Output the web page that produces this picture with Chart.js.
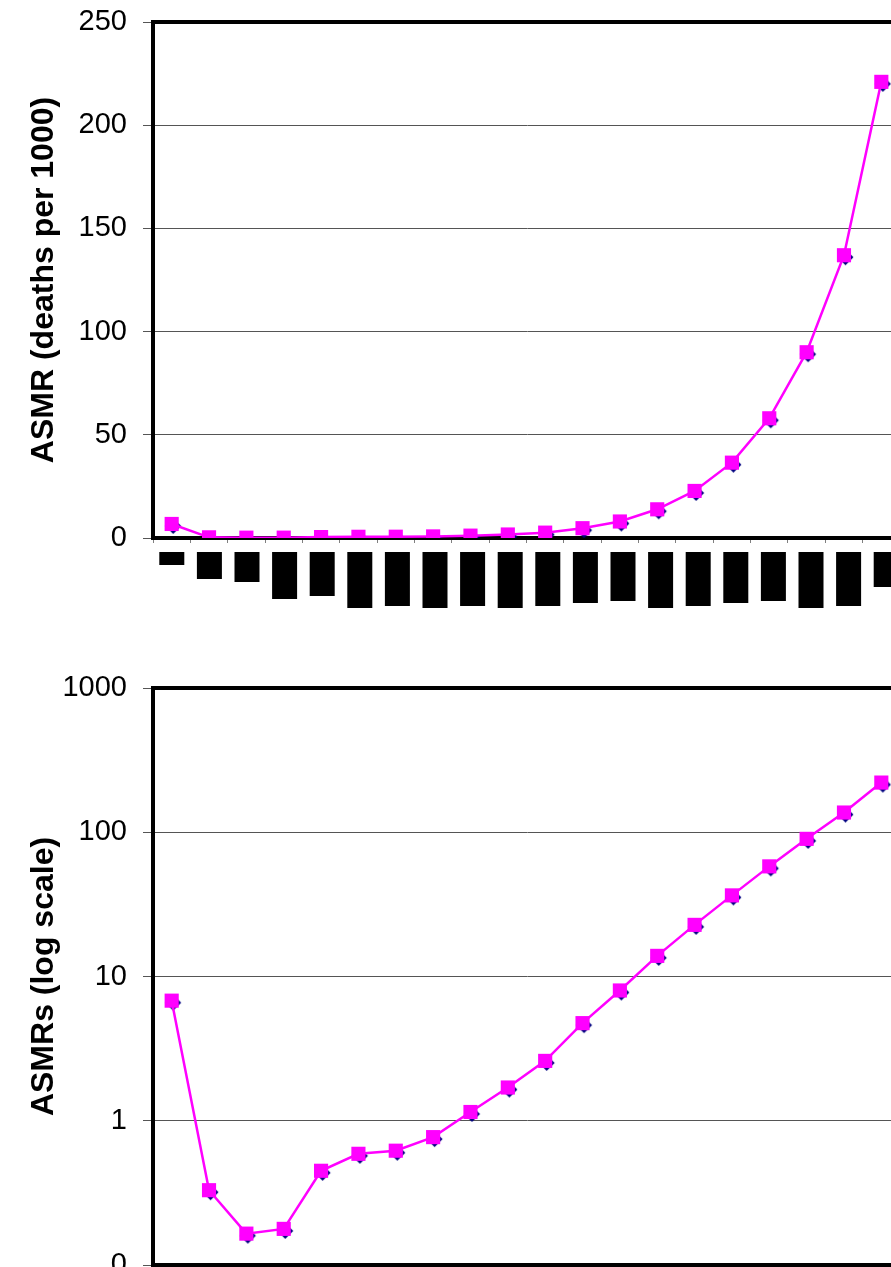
<!DOCTYPE html>
<html>
<head>
<meta charset="utf-8">
<script src="https://cdn.jsdelivr.net/npm/chart.js@4.4.1/dist/chart.umd.min.js"></script>
<style>
  html, body { margin: 0; padding: 0; background: #fff; width: 891px; height: 1267px; overflow: hidden; }
  canvas { position: absolute; left: 0; }
  #linChart { top: 0; }
  #blockChart { top: 552px; }
  #logChart { top: 640px; }
</style>
</head>
<body>
<canvas id="linChart" width="910" height="560"></canvas>
<canvas id="blockChart" width="910" height="60"></canvas>
<canvas id="logChart" width="910" height="660"></canvas>
<script>
// age groups (the axis labels are blacked out in the picture, not shown as text)
const ageGroups = ["0", "1-4", "5-9", "10-14", "15-19", "20-24", "25-29", "30-34", "35-39", "40-44",
  "45-49", "50-54", "55-59", "60-64", "65-69", "70-74", "75-79", "80-84", "85-89", "90+"];

// navy diamonds, mostly hidden behind the magenta squares
const asmrSeries1 = [6.8, 0.33, 0.165, 0.178, 0.45, 0.59, 0.62, 0.77, 1.15, 1.7,
  2.6, 4.75, 8.0, 13.9, 22.8, 36.5, 58, 90, 137, 221];
// magenta squares with line
const asmrSeries2 = [6.8, 0.33, 0.165, 0.178, 0.45, 0.59, 0.62, 0.77, 1.15, 1.7,
  2.6, 4.75, 8.0, 13.9, 22.8, 36.5, 58, 90, 137, 221];

// depth of the black blocks under the top axis
const labelBlockDepth = [13, 27, 30, 47, 44, 56, 54, 56, 54, 56,
  54, 51, 49, 56, 54, 51, 49, 56, 54, 35];

const linTickStep = 50;
const logTickValues = [0.1, 1, 10, 100, 1000];
const logTickLabels = ["0", "1", "10", "100", "1000"];

const FONT = "'Liberation Sans', Arial, Helvetica, sans-serif";
Chart.defaults.font.family = FONT;
Chart.defaults.color = "#000";

// diamond drawn a little down and right so it peeks out from under the square
function makeDiamond() {
  const c = document.createElement("canvas");
  c.width = 26;
  c.height = 26;
  const g = c.getContext("2d");
  g.fillStyle = "#000080";
  g.beginPath();
  g.moveTo(14.5, 7);
  g.lineTo(22.5, 15);
  g.lineTo(14.5, 23);
  g.lineTo(6.5, 15);
  g.closePath();
  g.fill();
  return c;
}
const diamond = makeDiamond();

const topFrame = {
  id: "topFrame",
  beforeDatasetsDraw(chart) {
    const { ctx, chartArea: { top, left, right } } = chart;
    ctx.save();
    ctx.strokeStyle = "#000";
    ctx.lineWidth = 4;
    ctx.beginPath();
    ctx.moveTo(left - 2, top);
    ctx.lineTo(right + 10, top);
    ctx.stroke();
    ctx.restore();
  },
};

function lineDatasets() {
  return [
    {
      label: "Series 2",
      data: asmrSeries2,
      borderColor: "#ff00ff",
      backgroundColor: "#ff00ff",
      borderWidth: 2.5,
      pointStyle: "rect",
      pointRadius: 10,
      pointHoverRadius: 10,
      pointBorderWidth: 0,
      order: 1,
    },
    {
      label: "Series 1",
      data: asmrSeries1,
      showLine: false,
      pointStyle: diamond,
      pointRadius: 8,
      order: 2,
    },
  ];
}

function xScale(height) {
  return {
    type: "category",
    offset: true,
    grid: { offset: true, drawOnChartArea: false, tickLength: 5, color: "#808080" },
    border: { color: "#000", width: 4 },
    ticks: { display: false },
    afterFit(s) { s.height = height; },
  };
}

function yCommon(title) {
  return {
    ticks: { color: "#000", font: { size: 29 }, padding: 16 },
    grid: { color: "#555", tickLength: 10, lineWidth: 1 },
    border: { color: "#000", width: 4 },
    title: {
      display: true,
      text: title,
      color: "#000",
      font: { size: 32, weight: "bold" },
      padding: { top: 25, bottom: 0 },
    },
    afterFit(s) {
      s.width = 153;
      // labels may overhang the plot; the page layout handles that
      s.paddingTop = 0;
      s.paddingBottom = 0;
    },
  };
}

const baseOptions = {
  responsive: false,
  animation: false,
  plugins: { legend: { display: false }, tooltip: { enabled: false } },
};

// top: linear scale
const yLin = yCommon("ASMR (deaths per 1000)");
yLin.min = 0;
yLin.max = 250;
yLin.ticks.stepSize = linTickStep;

new Chart(document.getElementById("linChart"), {
  type: "line",
  data: { labels: ageGroups, datasets: lineDatasets() },
  options: {
    ...baseOptions,
    layout: { padding: { top: 22, right: 5, left: 0, bottom: 0 } },
    scales: { x: xScale(22), y: yLin },
  },
  plugins: [topFrame],
});

// blacked-out category labels under the top chart
new Chart(document.getElementById("blockChart"), {
  type: "bar",
  data: {
    labels: ageGroups,
    datasets: [{
      data: labelBlockDepth,
      backgroundColor: "#000",
      barPercentage: 0.665,
      categoryPercentage: 1,
    }],
  },
  options: {
    ...baseOptions,
    layout: { padding: { left: 153, right: 5, top: 0, bottom: 0 } },
    scales: {
      x: { display: false },
      y: { display: false, min: 0, max: 60, reverse: true },
    },
  },
});

// bottom: log scale
const yLog = yCommon("ASMRs (log scale)");
yLog.type = "logarithmic";
yLog.min = 0.1;
yLog.max = 1000;
yLog.afterBuildTicks = (s) => { s.ticks = logTickValues.map((v) => ({ value: v, major: true })); };
yLog.ticks.callback = (v) => logTickLabels[logTickValues.indexOf(v)];

new Chart(document.getElementById("logChart"), {
  type: "line",
  data: { labels: ageGroups, datasets: lineDatasets() },
  options: {
    ...baseOptions,
    layout: { padding: { top: 48, right: 5, left: 0, bottom: 0 } },
    scales: { x: xScale(35), y: yLog },
  },
  plugins: [topFrame],
});
</script>
</body>
</html>
